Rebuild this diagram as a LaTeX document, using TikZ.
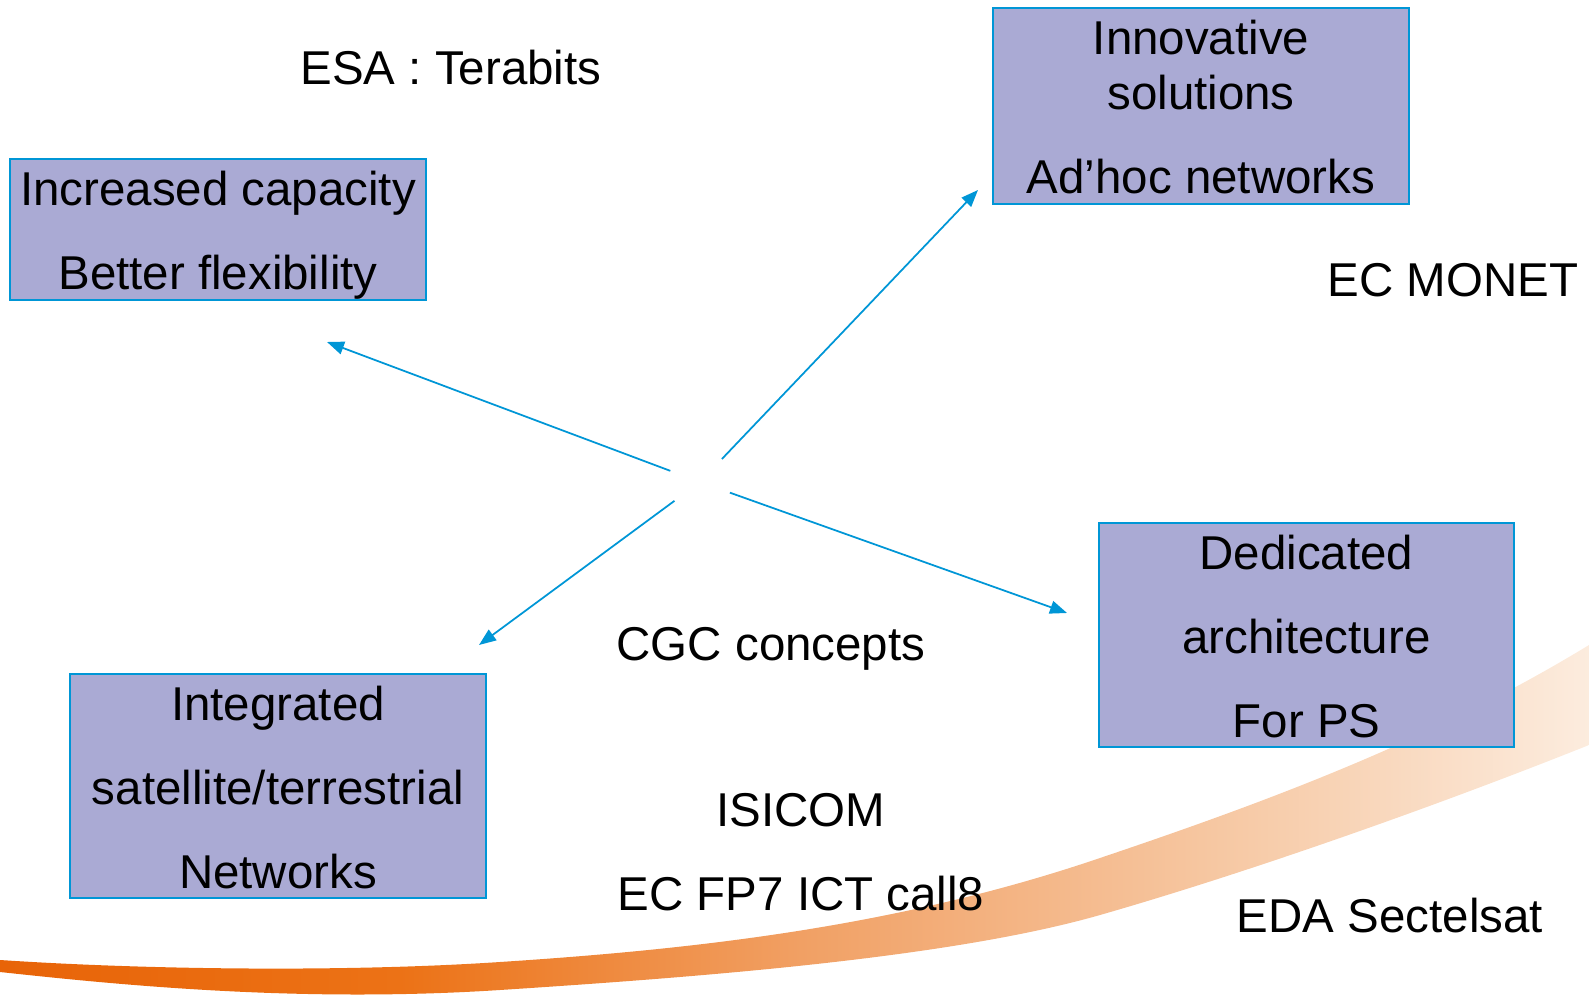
\documentclass[tikz,border=0pt]{standalone}
\usepackage{fontspec}
\setmainfont{Liberation Sans}
\usetikzlibrary{arrows.meta, positioning}
\definecolor{topicfill}{RGB}{170,170,212}
\definecolor{linkblue}{RGB}{0,150,214}
\definecolor{swA}{RGB}{232,100,8}
\definecolor{swB}{RGB}{236,114,22}
\definecolor{swC}{RGB}{241,160,100}
\definecolor{swD}{RGB}{246,198,160}
\definecolor{swE}{RGB}{252,236,222}
\pgfdeclarehorizontalshading{swoosh}{100bp}{color(0bp)=(swA); color(25bp)=(swA); color(37.6bp)=(swB); color(50.2bp)=(swC); color(62.8bp)=(swD); color(75bp)=(swE); color(100bp)=(swE)}
\newcommand{\tstrut}{\rule{0pt}{12.9pt}}
\newcommand{\bstrut}{\rule[-2.5pt]{0pt}{2.5pt}}
\tikzstyle{topic} = [rectangle, draw=linkblue, line width=0.6pt, fill=topicfill, inner sep=0pt, align=center, font=\fontsize{13.5}{23.9}\selectfont]
\tikzstyle{note} = [inner sep=0pt, anchor=base, font=\fontsize{13.5}{16}\selectfont]
\tikzstyle{arrow} = [linkblue, line width=0.5pt, -{Triangle[length=0.17cm, width=0.13cm]}]

\begin{document}
\begin{tikzpicture}[x=0.01cm, y=-0.01cm]
	\useasboundingbox (0,0) rectangle (1589,995);
	
	% orange swoosh
	\begin{scope}
		\clip (0,0) rectangle (1589,995);
		\shade[shading=swoosh] (0,960) .. controls (150,970) and (350,972) .. (500,962)
			.. controls (700,949) and (900,926) .. (1100,858)
			.. controls (1260,804) and (1430,742) .. (1589,645)
			-- (1589,745)
			.. controls (1439,805) and (1250,872) .. (1100,915)
			.. controls (950,958) and (700,977) .. (500,990)
			.. controls (300,1003) and (120,985) .. (0,972) -- cycle;
	\end{scope}
	
	\node (capacity) [topic, minimum width=4.16cm, minimum height=1.41cm] at (218,229.5) {\tstrut Increased capacity\\Better flexibility\bstrut};
	
	\node (adhoc) [topic, minimum width=4.16cm, minimum height=1.96cm] at (1201,106) {\tstrut Innovative\\[-8.3pt]solutions\\Ad’hoc networks\bstrut};
	
	\node (dedicated) [topic, minimum width=4.15cm, minimum height=2.24cm] at (1306.5,635) {\tstrut Dedicated\\architecture\\For PS\bstrut};
	
	\node (integrated) [topic, minimum width=4.16cm, minimum height=2.24cm] at (278,786) {\tstrut Integrated\\satellite/terrestrial\\Networks\bstrut};
	
	\node (esa) [note] at (451,85) {ESA : Terabits};
	\node (monet) [note] at (1453,297) {EC MONET};
	\node (cgc) [note] at (771,660) {CGC concepts};
	\node (isicom) [note] at (801,826) {ISICOM};
	\node (fp7) [note, below=0.84cm of isicom.base, anchor=base] {EC FP7 ICT call8};
	\node (eda) [note] at (1390,932) {EDA Sectelsat};
	
	% arrows out of the middle
	\node (hub) [circle, minimum size=0.62cm, inner sep=0pt] at (700,482) {};
	\coordinate (tcap) at (327,342);
	\coordinate (tadhoc) at (978,190);
	\coordinate (tinteg) at (479,645);
	\coordinate (tded) at (1067,613);
	
	\draw [arrow] (hub) -- (tcap);
	\draw [arrow] (hub) -- (tadhoc);
	\draw [arrow] (hub) -- (tinteg);
	\draw [arrow] (hub) -- (tded);
\end{tikzpicture}
\end{document}
